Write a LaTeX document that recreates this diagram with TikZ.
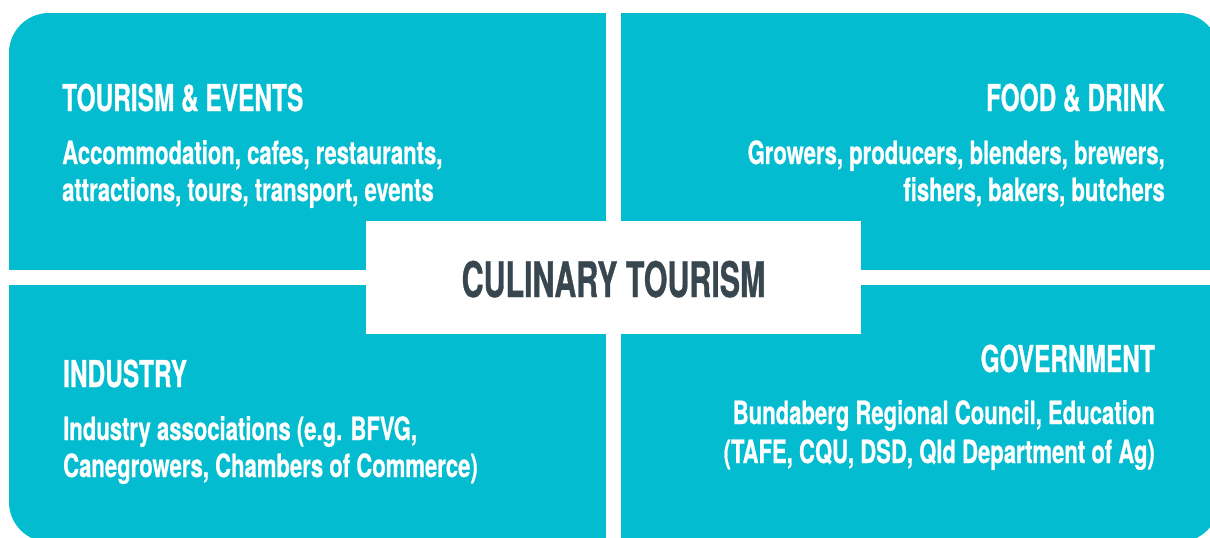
\documentclass[tikz,border=0pt]{standalone}
\usepackage{fontspec}
\setmainfont{TeX Gyre Heros}[FakeStretch=0.69, BoldFeatures={FakeBold=0.6}]
\newfontfamily\headfont{TeX Gyre Heros}[FakeStretch=0.66, BoldFeatures={FakeBold=0.6}]
\newfontfamily\centrefont{TeX Gyre Heros}[FakeStretch=0.62, BoldFeatures={FakeBold=0.6}]

\newlength{\du}
\setlength{\du}{1pt}

\definecolor{quadcolor}{rgb}{0.012, 0.737, 0.812}
\definecolor{centrecolor}{rgb}{0.216, 0.275, 0.310}

\tikzset{
  headtext/.style={text=white, inner sep=0pt, font=\fontsize{37}{40}\selectfont\headfont\bfseries},
  bodytext/.style={text=white, inner sep=0pt, font=\fontsize{32}{37}\selectfont\bfseries},
  centrebox/.style={fill=white, inner sep=0pt, minimum width=495\du, minimum height=113\du,
    text height=39\du, text depth=0pt, text=centrecolor,
    font=\fontsize{49}{52}\selectfont\centrefont\bfseries},
}

\begin{document}
\begin{tikzpicture}[yscale=-1]
\useasboundingbox (0\du,0\du) rectangle (1210\du,538\du);
\clip (0\du,0\du) rectangle (1210\du,538\du);
% quadrants
\fill[quadcolor, rounded corners=40\du] (9\du,13\du) rectangle (1219\du,542\du);
\fill[white] (606\du,0\du) rectangle (621\du,538\du);
\fill[white] (0\du,270\du) rectangle (1210\du,285\du);
% centre
\node[centrebox] (centre) at (613.5\du,277.5\du) {CULINARY TOURISM};
% top left
\node[headtext, anchor=base west] (tourismhead) at (62\du,111\du) {TOURISM \& EVENTS};
\node[bodytext, anchor=base west] (tourismone) at (62\du,164\du) {Accommodation, cafes, restaurants,};
\node[bodytext, anchor=base west] (tourismtwo) at (62\du,201\du) {attractions, tours, transport, events};
% top right
\node[headtext, anchor=base east] (foodhead) at (1165\du,111\du) {FOOD \& DRINK};
\node[bodytext, anchor=base east] (foodone) at (1165\du,164\du) {Growers, producers, blenders, brewers,};
\node[bodytext, anchor=base east] (foodtwo) at (1165\du,201\du) {fishers, bakers, butchers};
% bottom left
\node[headtext, anchor=base west] (industryhead) at (63\du,387\du) {INDUSTRY};
\node[bodytext, anchor=base west] (industryone) at (63\du,440\du) {Industry associations (e.g. BFVG,};
\node[bodytext, anchor=base west] (industrytwo) at (63\du,477\du) {Canegrowers, Chambers of Commerce)};
% bottom right
\node[headtext, anchor=base east] (govthead) at (1155\du,372\du) {GOVERNMENT};
\node[bodytext, anchor=base east] (govtone) at (1155\du,424\du) {Bundaberg Regional Council, Education};
\node[bodytext, anchor=base east] (govttwo) at (1155\du,463\du) {(TAFE, CQU, DSD, Qld Department of Ag)};
\end{tikzpicture}
\end{document}
